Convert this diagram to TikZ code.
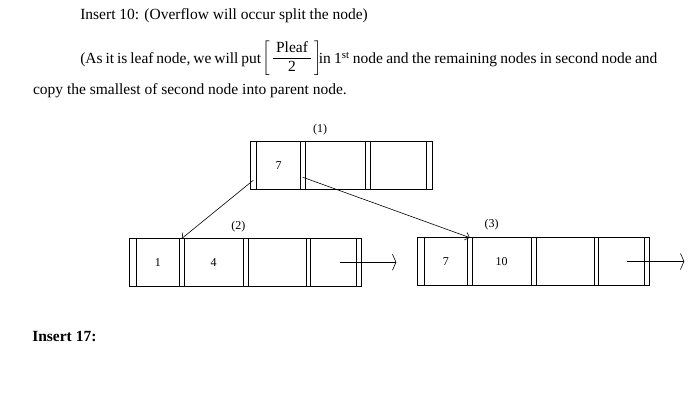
\documentclass[tikz,border=0pt]{standalone}
\usepackage{amsmath}
\usepackage{fontspec}
\setmainfont{Liberation Serif}
\usepackage{tikz}
\usetikzlibrary{positioning, arrows.meta}

\begin{document}
\begin{tikzpicture}[x=1pt, y=-1pt, line width=0.6pt,
  body/.style={font=\fontsize{15.5}{18}\selectfont, inner sep=0pt, anchor=base west},
  cell/.style={draw, minimum height=47.5pt, inner sep=0pt, outer sep=0pt, font=\fontsize{12}{14}\selectfont},
  tag/.style={font=\fontsize{12}{14}\selectfont, inner sep=0pt},
  tochild/.style={-{Straight Barb[length=4pt,width=8pt]}},
  nextptr/.style={-{Straight Barb[length=3.5pt,width=16pt]}}]

\useasboundingbox (0,0) rectangle (699,412);

% text above the tree
\node[body] (l1) at (80,19.3) {Insert 10: (Overflow will occur split the node)};
\node[body] (l2a) at (80,63.3) {\spaceskip=2.9pt (As it is leaf node, we will put};
\node[inner sep=0pt] (frac) at (292,58.5) {\fontsize{15.5}{18}\selectfont$\biggl[\,\dfrac{\text{\,Pleaf\,}}{\text{2}}\,\biggr]$};
\node[body] (l2b) at (318.5,63.3) {\spaceskip=3.3pt in 1\textsuperscript{st} node and the remaining nodes in second node and};
\node[body] (l3) at (32.7,94.3) {copy the smallest of second node into parent node.};

% parent node (1)
\coordinate (r0) at (250,165.45);
\foreach \w/\t [count=\i, remember=\i as \j (initially 0)] in {6.7pt/{}, 43.6pt/7, 4.7pt/{}, 60pt/{}, 5pt/{}, 56.7pt/{}, 6pt/{}}
  \node[cell, minimum width=\w, right=0pt of r\j] (r\i) {\t};

% leaf nodes (2) and (3)
\coordinate (a0) at (129.3,262.2);
\foreach \w/\t [count=\i, remember=\i as \j (initially 0)] in {6.7pt/{}, 43.5pt/1, 4.7pt/{}, 59pt/4, 5.2pt/{}, 57.5pt/{}, 4.7pt/{}, 45.5pt/{}, 5.2pt/{}}
  \node[cell, minimum width=\w, right=0pt of a\j] (a\i) {\t};
\coordinate (b0) at (417.3,261.4);
\foreach \w/\t [count=\i, remember=\i as \j (initially 0)] in {6.7pt/{}, 43.5pt/7, 4.7pt/{}, 59pt/10, 5.2pt/{}, 57.5pt/{}, 4.7pt/{}, 45.5pt/{}, 5.2pt/{}}
  \node[cell, minimum width=\w, right=0pt of b\j] (b\i) {\t};

\node[tag] (n1) at (320,130) {(1)};
\node[tag] (n2) at (238.3,226.7) {(2)};
\node[tag] (n3) at (491.7,225) {(3)};

\draw[tochild] ([yshift=9pt]r1.south) -- (a3.north);
\draw[tochild] ([yshift=12pt]r3.south) -- (b3.north);
\coordinate[right=35pt of a9] (anext);
\coordinate[right=35pt of b9] (bnext);
\draw[nextptr] ([xshift=6.5pt]a8.center) -- (anext);
\draw[nextptr] ([xshift=6pt]b8.center) -- (bnext);

\node[body, font=\fontsize{15.5}{18}\selectfont\bfseries] (l4) at (32,341) {Insert 17:};

\end{tikzpicture}
\end{document}
